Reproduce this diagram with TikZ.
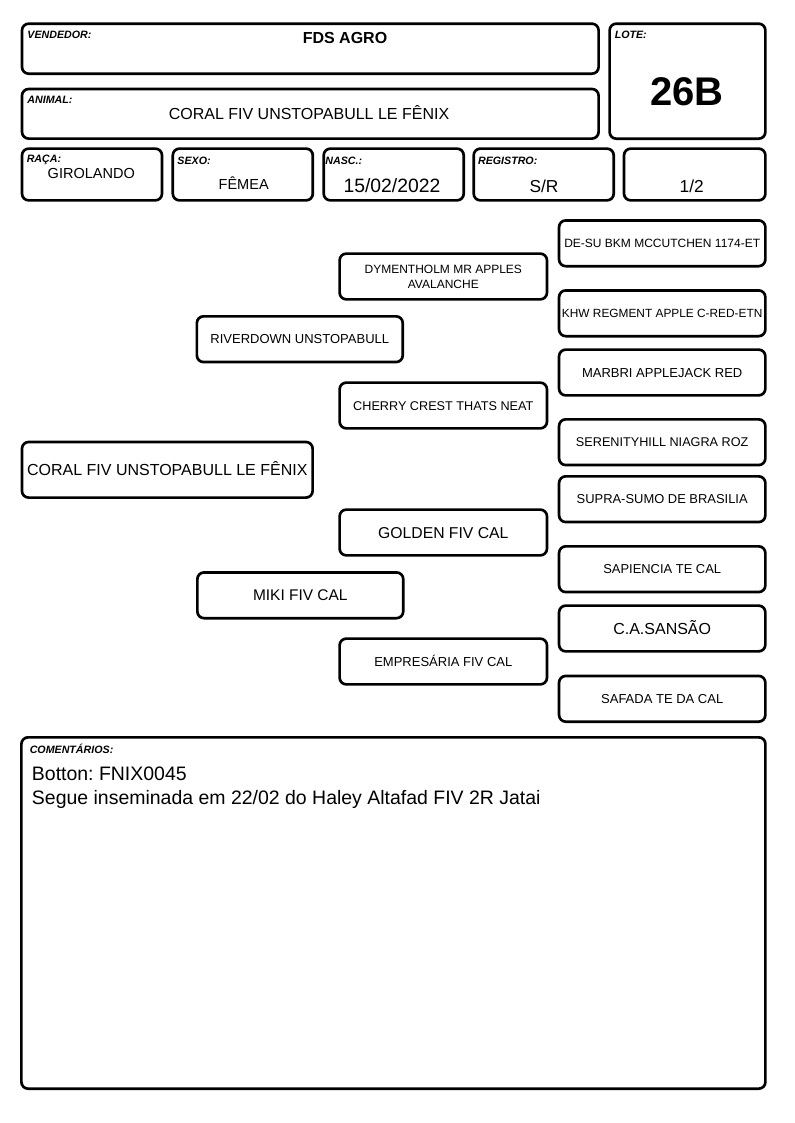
\documentclass[tikz,border=0pt]{standalone}
\usepackage{fontspec}
\setmainfont{Liberation Sans}
\frenchspacing
\newcommand\fsz[2]{\fontsize{#1}{#2}\selectfont}
\begin{document}
\begin{tikzpicture}[x=0.75pt,y=-0.75pt,
  box/.style={draw=black, line width=2pt, rounded corners=5pt, inner sep=0pt, anchor=center},
  pbox/.style={box, font=\fsz{#1}{#1}, text height=0.716*#1pt, text depth=0pt},
  pa/.style={minimum width=218pt, minimum height=41.7pt},
  pb/.style={minimum width=154.4pt, minimum height=34.3pt},
  pc/.style={minimum width=155.5pt, minimum height=34.3pt},
  pd/.style={minimum width=154.7pt, minimum height=34.3pt},
  sbox/.style={box, minimum width=105pt, minimum height=38.8pt},
  lbl/.style={anchor=base west, inner sep=0pt, font=\fsz{8}{9.5}\bfseries\itshape},
  val/.style={anchor=base, inner sep=0pt},
]
\useasboundingbox (0,0) rectangle (794,1123);

% header boxes
\node[box, minimum width=432.45pt, minimum height=37.5pt] (vend) at (310.3,48.7) {};
\node[box, minimum width=432.45pt, minimum height=37.2pt] (anim) at (310.3,113.8) {};
\node[box, minimum width=116.8pt, minimum height=86.25pt] (lote) at (687.5,81.2) {};
\node[sbox] (raca) at (92,174.5) {};
\node[sbox] (sexo) at (242.8,174.5) {};
\node[sbox] (nasc) at (393.7,174.5) {};
\node[sbox] (regi) at (543.7,174.5) {};
\node[sbox, minimum width=106pt] (half) at (694.7,174.5) {};

\node[lbl] (lvend) at (27.2,39) {VENDEDOR:};
\node[lbl] (lanim) at (27.2,103.3) {ANIMAL:};
\node[lbl] (llote) at (614.5,39) {LOTE:};
\node[lbl] (lraca) at (26.5,163) {RAÇA:};
\node[lbl] (lsexo) at (177.2,165) {SEXO:};
\node[lbl] (lnasc) at (325.2,165) {NASC.:};
\node[lbl] (lregi) at (477.8,165) {REGISTRO:};

\node[val, font=\fsz{12}{14}\bfseries] (vvend) at (345,43.3) {FDS AGRO};
\node[val, font=\fsz{12}{14}] (vanim) at (309,120) {CORAL FIV UNSTOPABULL LE FÊNIX};
\node[val, font=\fsz{30}{34}\bfseries] (vlote) at (687,105.7) {26B};
\node[val, font=\fsz{10.9}{13}] (vraca) at (91.3,178.3) {GIROLANDO};
\node[val, font=\fsz{10.9}{13}] (vsexo) at (243.7,189.3) {FÊMEA};
\node[val, font=\fsz{14.5}{17}] (vnasc) at (392,192.7) {15/02/2022};
\node[val, font=\fsz{13}{15}] (vregi) at (544,192.3) {S/R};
\node[val, font=\fsz{13}{15}] (vhalf) at (691.7,192.3) {1/2};

% pedigree
\node[pbox=12, pa] (coral) at (167.3,469.8) {CORAL FIV UNSTOPABULL LE FÊNIX};
\node[pbox=9.75, pb] (river) at (299.8,339.2) {RIVERDOWN UNSTOPABULL};
\node[pbox=11.6, pb] (miki) at (300.3,595.3) {MIKI FIV CAL};
\node[box, pc, font=\fsz{9}{11.25}, align=center] (dym) at (443.3,276.5) {DYMENTHOLM MR APPLES\\AVALANCHE};
\node[pbox=9.5, pc] (cherry) at (443.3,405.5) {CHERRY CREST THATS NEAT};
\node[pbox=11.8, pc] (golden) at (443.3,532.5) {GOLDEN FIV CAL};
\node[pbox=9.75, pc] (empr) at (443.3,661.5) {EMPRESÁRIA FIV CAL};
\node[pbox=9, pd] (desu) at (662.2,243.3) {DE-SU BKM MCCUTCHEN 1174-ET};
\node[pbox=8.9, pd] (khw) at (662.2,313.3) {KHW REGMENT APPLE C-RED-ETN};
\node[pbox=9.75, pd] (marbri) at (662.2,372.5) {MARBRI APPLEJACK RED};
\node[pbox=9.5, pd] (seren) at (662.2,442.2) {SERENITYHILL NIAGRA ROZ};
\node[pbox=9.7, pd] (supra) at (662.2,499.2) {SUPRA-SUMO DE BRASILIA};
\node[pbox=9.7, pd] (sapi) at (662.2,569.2) {SAPIENCIA TE CAL};
\node[pbox=12, pd] (sansao) at (662.2,628.5) {C.A.SANSÃO};
\node[pbox=9.75, pd] (safada) at (662.2,698.8) {SAFADA TE DA CAL};

% comments
\node[box, minimum width=558pt, minimum height=263.5pt] (coment) at (393.4,913) {};
\node[lbl] (lcom) at (29.5,753.3) {COMENTÁRIOS:};
\node[anchor=base west, inner sep=0pt, font=\fsz{14.6}{17.5}] (com1) at (31.7,780.7) {Botton: FNIX0045};
\node[anchor=base west, inner sep=0pt, font=\fsz{14.6}{17.5}] (com2) at (31.7,804) {Segue inseminada em 22/02 do Haley Altafad FIV 2R Jatai};
\end{tikzpicture}
\end{document}
